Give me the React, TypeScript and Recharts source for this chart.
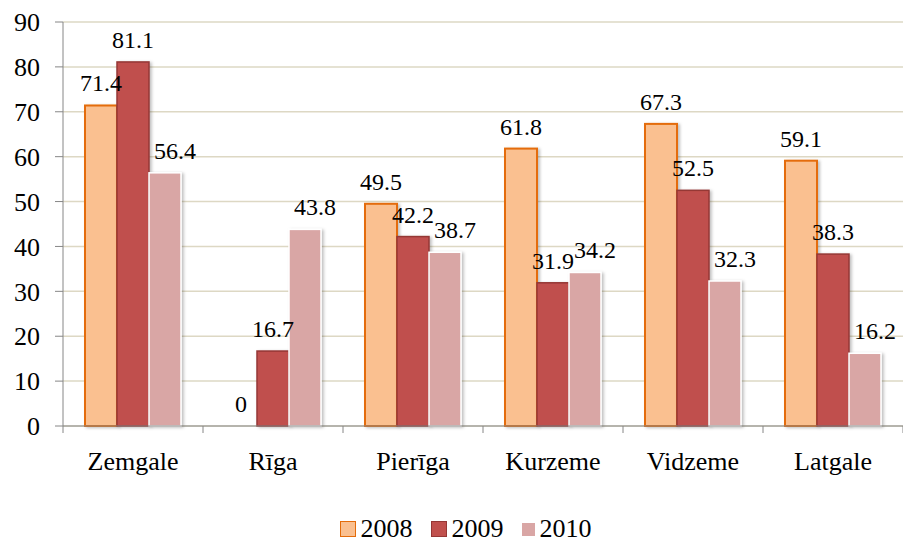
import React from 'react';
import { BarChart, Bar, XAxis, YAxis, CartesianGrid, LabelList, Legend } from 'recharts';

const categories = ['Zemgale', 'Rīga', 'Pierīga', 'Kurzeme', 'Vidzeme', 'Latgale'];
const values2008 = [71.4, 0, 49.5, 61.8, 67.3, 59.1];
const values2009 = [81.1, 16.7, 42.2, 31.9, 52.5, 38.3];
const values2010 = [56.4, 43.8, 38.7, 34.2, 32.3, 16.2];
const yTicks = [0, 10, 20, 30, 40, 50, 60, 70, 80, 90];
const seriesNames = ['2008', '2009', '2010'];

const data = categories.map((c, i) => ({
  name: c,
  v2008: values2008[i],
  v2009: values2009[i],
  v2010: values2010[i],
}));

const FONT = '"Liberation Serif", "Times New Roman", serif';
const W = 903;
const H = 542;
const Y_AXIS_W = 63;
const MARGIN = { top: 22, right: 0, bottom: 0, left: 0 };
const BAND = (W - Y_AXIS_W - MARGIN.right - MARGIN.left) / categories.length;
const AXIS_COLOR = '#868686';
const GRID_COLOR = '#DDD8C4';

const series = [
  { key: 'v2008', name: seriesNames[0], fill: '#FAC090', stroke: '#E46C0A', strokeWidth: 2, labelDx: 0 },
  { key: 'v2009', name: seriesNames[1], fill: '#C0504D', stroke: '#953735', strokeWidth: 1.5, labelDx: 0 },
  { key: 'v2010', name: seriesNames[2], fill: '#D9A6A5', stroke: '#FFFFFF', strokeWidth: 1.5, labelDx: 10 },
];

const BarShape = (props: any) => {
  const { x, y, width, height, fill, stroke, strokeWidth } = props;
  if (!height || height <= 0) return null;
  return (
    <rect
      x={x}
      y={y}
      width={width}
      height={height}
      fill={fill}
      stroke={stroke}
      strokeWidth={strokeWidth}
      filter="url(#barShadow)"
    />
  );
};

const makeLabel = (dx: number) => (props: any) => {
  const { x, y, width, value } = props;
  return (
    <text
      x={Number(x) + Number(width) / 2 + dx}
      y={Number(y) - 14}
      textAnchor="middle"
      style={{ fontFamily: FONT, fontSize: 24 }}
      fill="#000"
    >
      {value}
    </text>
  );
};

const XTick = (props: any) => {
  const { x, y, payload, index } = props;
  const lineTop = y - 26;
  return (
    <g>
      <line x1={x - BAND / 2} x2={x - BAND / 2} y1={lineTop} y2={lineTop + 7} stroke={AXIS_COLOR} strokeWidth={1} />
      {index === categories.length - 1 && (
        <line x1={x + BAND / 2} x2={x + BAND / 2} y1={lineTop} y2={lineTop + 7} stroke={AXIS_COLOR} strokeWidth={1} />
      )}
      <text x={x} y={y} dy="0.71em" textAnchor="middle" style={{ fontFamily: FONT, fontSize: 26 }} fill="#000">
        {payload.value}
      </text>
    </g>
  );
};

const LegendContent = () => (
  <div
    style={{
      display: 'flex',
      justifyContent: 'center',
      alignItems: 'center',
      height: 26,
      fontFamily: FONT,
      fontSize: 26,
      lineHeight: '26px',
      color: '#000',
      paddingLeft: 28,
    }}
  >
    {series.map((s, i) => (
      <div key={s.key} style={{ display: 'flex', alignItems: 'center', marginRight: i < series.length - 1 ? 18 : 0 }}>
        <span
          style={{
            display: 'inline-block',
            width: s.key === 'v2010' ? 13 : 14,
            height: s.key === 'v2010' ? 13 : 14,
            background: s.fill,
            border: s.key === 'v2010' ? 'none' : `1.5px solid ${s.stroke}`,
            marginRight: 5,
          }}
        />
        <span>{s.name}</span>
      </div>
    ))}
  </div>
);

export default function App() {
  return (
    <div style={{ position: 'absolute', left: 0, top: 0, width: W, height: H, background: '#fff' }}>
      <svg width="0" height="0" style={{ position: 'absolute' }}>
        <defs>
          <filter id="barShadow" x="-20%" y="-10%" width="150%" height="130%">
            <feDropShadow dx="2" dy="1" stdDeviation="1.5" floodColor="#000" floodOpacity="0.25" />
          </filter>
        </defs>
      </svg>
      <BarChart
        width={W}
        height={H}
        data={data}
        margin={MARGIN}
        barCategoryGap={22}
        barGap={0}
        style={{ fontFamily: FONT }}
      >
        <CartesianGrid vertical={false} stroke={GRID_COLOR} strokeWidth={1.5} />
        <XAxis
          dataKey="name"
          height={90}
          tickLine={false}
          tickSize={7}
          tickMargin={19}
          axisLine={{ stroke: AXIS_COLOR, strokeWidth: 1 }}
          tick={<XTick />}
          interval={0}
        />
        <YAxis
          width={Y_AXIS_W}
          domain={[0, 90]}
          ticks={yTicks}
          interval={0}
          tickSize={8}
          tickMargin={15}
          axisLine={{ stroke: AXIS_COLOR, strokeWidth: 1 }}
          tickLine={{ stroke: AXIS_COLOR, strokeWidth: 1 }}
          tick={{ fontFamily: FONT, fontSize: 26, fill: '#000' }}
        />
        <Legend verticalAlign="bottom" align="center" content={<LegendContent />} wrapperStyle={{ height: 26 }} />
        {series.map((s) => (
          <Bar
            key={s.key}
            dataKey={s.key}
            name={s.name}
            fill={s.fill}
            stroke={s.stroke}
            strokeWidth={s.strokeWidth}
            shape={<BarShape />}
            isAnimationActive={false}
          >
            <LabelList dataKey={s.key} content={makeLabel(s.labelDx)} />
          </Bar>
        ))}
      </BarChart>
    </div>
  );
}
